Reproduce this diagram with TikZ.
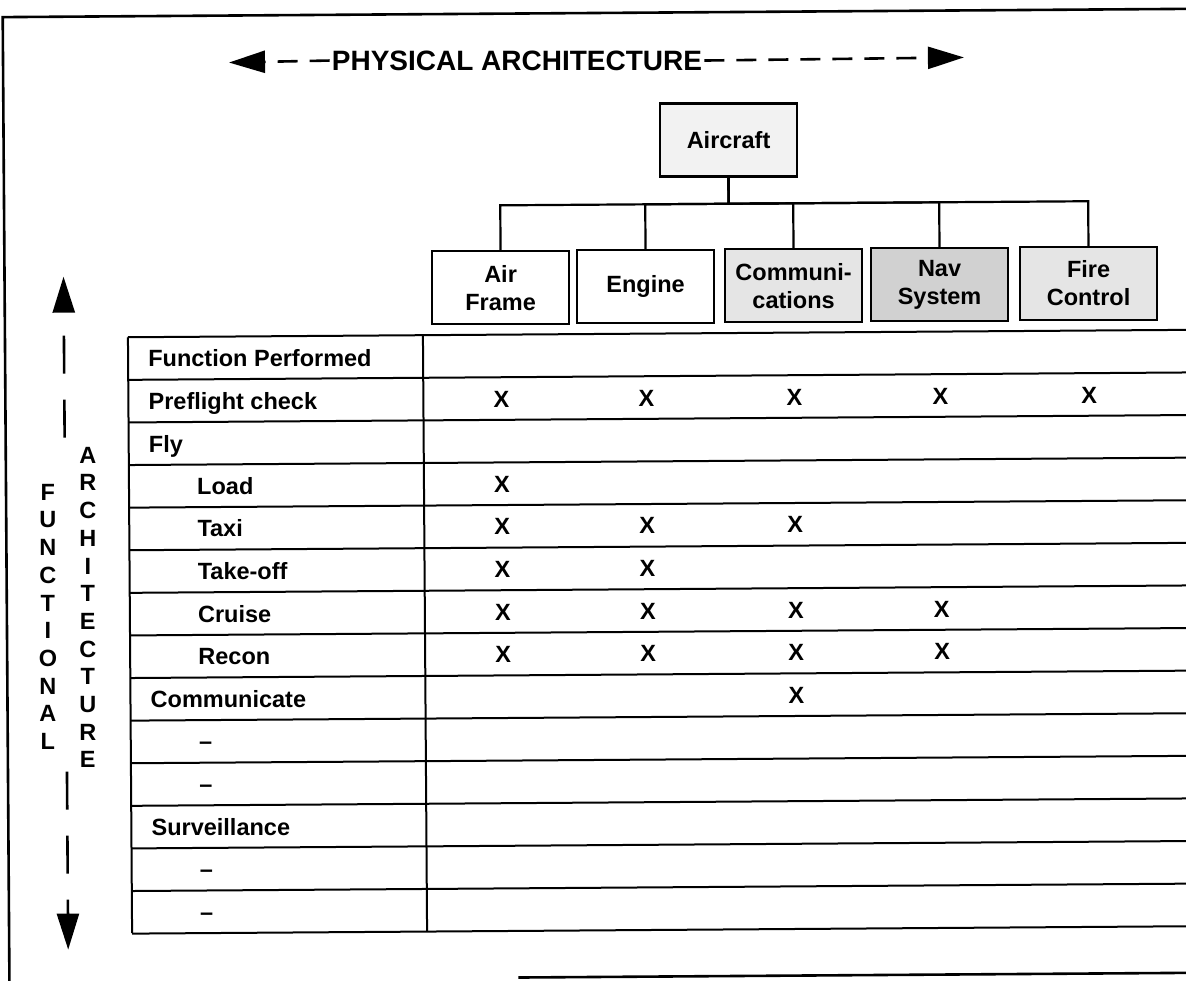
\documentclass[tikz,border=0pt]{standalone}
\usepackage{fontspec}
\setmainfont{Liberation Sans}
\usetikzlibrary{arrows.meta}

\begin{document}
\begin{tikzpicture}[x=1pt, y=-1pt,
            font=\fontsize{23.5}{28}\selectfont\bfseries,
            unit/.style={draw, line width=2.4pt, minimum width=137pt, minimum height=73pt, align=center, inner sep=2pt},
            cell/.style={anchor=base west, inner sep=0pt},
            xmark/.style={anchor=base, inner sep=0pt},
            vlabel/.style={align=center, inner sep=0pt, font=\fontsize{23.5}{27.7}\selectfont\bfseries},
            hdash/.style={line width=2.6pt, dash pattern=on 20pt off 12pt, -{Triangle[length=36pt,width=22pt]}},
            vdash/.style={line width=2.6pt, dash pattern=on 38pt off 26pt, -{Triangle[length=36pt,width=22pt]}},
            rule/.style={line width=2pt}
            ]
            \useasboundingbox (0,0) rectangle (1186,980);

            \begin{scope}[rotate around={0.4:(593,490)}]
            % Frame
            \draw[line width=2.6pt] (1200,13) -- (6,13) -- (6,990);
            \draw[line width=2.6pt] (515,977) -- (1200,977);

            % Title and its arrows
            \node[fill=white, inner xsep=2pt, font=\fontsize{28}{30}\selectfont\bfseries] (phys) at (520,60) {PHYSICAL ARCHITECTURE};
            \coordinate (lefttip) at (232,60);
            \coordinate (righttip) at (967,60);
            \draw[hdash] (phys.west) -- (lefttip);
            \draw[hdash] (phys.east) -- (righttip);

            % Nodes with manual coordinates
            \node[unit, fill=black!5] (ac) at (731,141) {Aircraft};
            \node[unit] (af) at (502,287) {Air\\Frame};
            \node[unit] (en) at (647,287) {Engine};
            \node[unit, fill=black!10] (cm) at (795,287) {Communi-\\cations};
            \node[unit, fill=black!18] (nv) at (941,287) {Nav\\System};
            \node[unit, fill=black!10] (fc) at (1090,287) {Fire\\Control};

            % Tree lines
            \foreach \b in {af,en,cm,nv,fc}
                \draw[line width=2.2pt] (ac.south) -- ++(0,26) -| (\b.north);

            % Table
            \foreach \i in {0,...,14}
                \draw[rule] (129,{334+42.6*\i}) -- (1200,{334+42.6*\i});
            \draw[rule] (129,334) -- (129,930);
            \draw[rule] (424,334) -- (424,930);

            \foreach \t/\x [count=\i from 0] in {Function Performed/149, Preflight check/149, Fly/149, Load/197, Taxi/197, Take-off/197, Cruise/197, Recon/197, Communicate/149, --/197, --/197, Surveillance/149, --/197, --/197}
                \node[cell] (r\i) at (\x,{363.8+42.6*\i}) {\t};

            \foreach \r/\c in {1/af,1/en,1/cm,1/nv,1/fc,3/af,4/af,4/en,4/cm,5/af,5/en,6/af,6/en,6/cm,6/nv,7/af,7/en,7/cm,7/nv,8/cm}
                \node[xmark] (x\r\c) at (\c |- r\r.base) {X};

            % Functional axis
            \node[vlabel] (func) at (47,613) {F\\U\\N\\C\\T\\I\\O\\N\\A\\L};
            \node[vlabel] (arch) at (87,604) {A\\R\\C\\H\\I\\T\\E\\C\\T\\U\\R\\E};
            \coordinate (upend) at (65,434);
            \coordinate (uptip) at (65,273);
            \coordinate (dnend) at (65,768);
            \coordinate (dntip) at (65,946);
            \draw[vdash] (upend) -- (uptip);
            \draw[vdash] (dnend) -- (dntip);
            \end{scope}
        \end{tikzpicture}
\end{document}
